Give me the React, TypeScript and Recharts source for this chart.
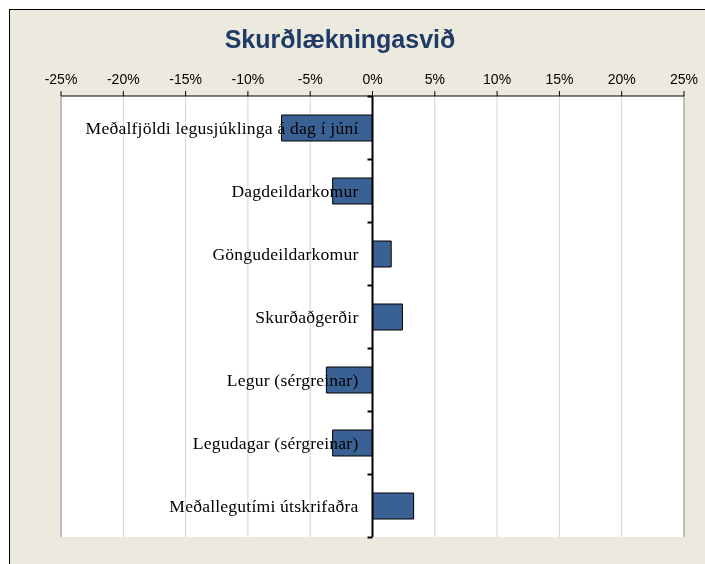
import { Bar, BarChart, CartesianGrid, LabelList, ReferenceLine, XAxis, YAxis } from "recharts"

const categories = [
  "Meðalfjöldi legusjúklinga á dag í júní",
  "Dagdeildarkomur",
  "Göngudeildarkomur",
  "Skurðaðgerðir",
  "Legur (sérgreinar)",
  "Legudagar (sérgreinar)",
  "Meðallegutími útskrifaðra",
]
const changes = [-7.3, -3.2, 1.5, 2.4, -3.7, -3.2, 3.3]
const xTicks = [-25, -20, -15, -10, -5, 0, 5, 10, 15, 20, 25]

const data = categories.map((name, i) => ({ name, value: changes[i] }))

const W = 705
const H = 564
const margin = { top: 66, right: 21, bottom: 27, left: 61 }
const axisH = 30
const band = (H - margin.top - margin.bottom - axisH) / categories.length

function CategoryLabel(props: any) {
  const vb = props.viewBox ?? {}
  const x = Number(props.x ?? vb.x)
  const y = Number(props.y ?? vb.y)
  const w = Number(props.width ?? vb.width)
  const h = Number(props.height ?? vb.height)
  const i = props.index
  const zx = changes[i] >= 0 ? Math.min(x, x + w) : Math.max(x, x + w)
  const cy = y + h / 2
  const top = cy - band / 2
  return (
    <g>
      <line x1={zx - 5} x2={zx} y1={top} y2={top} stroke="#000" strokeWidth={2} />
      {i === categories.length - 1 && (
        <line x1={zx - 5} x2={zx} y1={top + band} y2={top + band} stroke="#000" strokeWidth={2} />
      )}
      <text
        x={zx - 14}
        y={cy}
        textAnchor="end"
        dominantBaseline="central"
        fontFamily="'Liberation Serif', 'Times New Roman', serif"
        fontSize={17.6}
        letterSpacing={0.2}
        fill="#000"
      >
        {props.value}
      </text>
    </g>
  )
}

export default function App() {
  return (
    <div style={{ position: "fixed", left: 0, top: 0, width: W, height: H, overflow: "hidden" }}>
      <div
        style={{
          position: "absolute",
          left: 9,
          top: 9,
          width: 740,
          height: 600,
          background: "#ECE9DE",
          border: "1px solid #000",
        }}
      />
      <div
        style={{
          position: "absolute",
          left: 0,
          width: 680,
          top: 25,
          textAlign: "center",
          fontFamily: "'Liberation Sans', Arial, sans-serif",
          fontWeight: "bold",
          fontSize: 25,
          color: "#1F3B66",
        }}
      >
        Skurðlækningasvið
      </div>
      <div style={{ position: "absolute", left: 0, top: 0 }}>
        <BarChart width={W} height={H} data={data} layout="vertical" margin={margin} barSize={26}>
          <CartesianGrid horizontal={false} stroke="#D4D4D4" fill="#fff" />
          <XAxis
            type="number"
            orientation="top"
            domain={[-25, 25]}
            ticks={xTicks}
            tickFormatter={(v) => `${v}%`}
            height={axisH}
            axisLine={{ stroke: "#000" }}
            tickLine={{ stroke: "#000" }}
            tickSize={5}
            tickMargin={7}
            tick={{ fill: "#000", fontSize: 14, fontFamily: "'Liberation Sans', Arial, sans-serif" }}
            interval={0}
          />
          <XAxis
            xAxisId="b"
            type="number"
            orientation="bottom"
            domain={[-25, 25]}
            height={0}
            tick={false}
            tickLine={false}
            axisLine={{ stroke: "#999" }}
          />
          <YAxis type="category" dataKey="name" hide />
          <ReferenceLine x={-25} stroke="#999" />
          <ReferenceLine x={25} stroke="#999" />
          <Bar dataKey="value" fill="#3A6193" stroke="#000" strokeWidth={1} isAnimationActive={false}>
            <LabelList dataKey="name" content={CategoryLabel} />
          </Bar>
          <ReferenceLine x={0} stroke="#000" strokeWidth={2} />
        </BarChart>
      </div>
    </div>
  )
}
